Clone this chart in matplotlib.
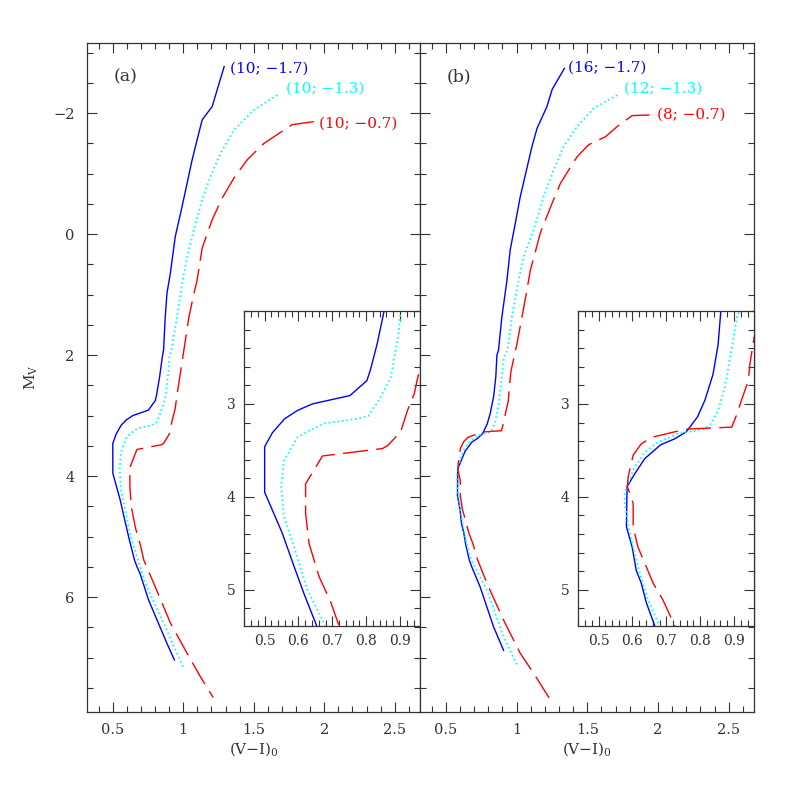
import matplotlib
matplotlib.use("Agg")
import matplotlib.pyplot as plt
from matplotlib.ticker import MultipleLocator

plt.rcParams['font.family'] = ['DejaVu Serif']
plt.rcParams['mathtext.fontset'] = 'dejavuserif'
plt.rcParams['lines.scale_dashes'] = False

# ---------------- data (V-I, M_V) ----------------
# panel (a)
blue_a_x = [1.29, 1.255, 1.205, 1.134, 1.098, 1.06, 1.027, 0.986, 0.943, 0.908, 0.884, 0.872, 0.860, 0.853,
            0.832, 0.812, 0.802, 0.752, 0.641, 0.597, 0.559, 0.523, 0.50, 0.50, 0.552, 0.587,
            0.616, 0.654, 0.672, 0.693, 0.754, 0.885, 0.937]
blue_a_y = [-2.77, -2.50, -2.11, -1.89, -1.56, -1.20, -0.84, -0.40, 0.04, 0.65, 0.98, 1.37, 1.92, 2.0,
            2.36, 2.64, 2.75, 2.91, 3.0, 3.07, 3.16, 3.31, 3.46, 3.95, 4.39, 4.75,
            5.04, 5.39, 5.5, 5.61, 6.05, 6.77, 7.04]

cyan_a_x = [1.667, 1.50, 1.359, 1.265, 1.193, 1.134, 1.075, 1.028, 0.992, 0.956, 0.915,
            0.902, 0.894, 0.873, 0.838, 0.806, 0.774, 0.676, 0.631, 0.597, 0.557, 0.549,
            0.557, 0.587, 0.626, 0.68, 0.73, 0.872, 1.003]
cyan_a_y = [-2.30, -2.05, -1.72, -1.34, -0.95, -0.57, -0.07, 0.37, 0.81, 1.37, 1.92,
            2.02, 2.29, 2.71, 2.96, 3.13, 3.16, 3.21, 3.29, 3.36, 3.61, 3.89,
            4.21, 4.54, 5.0, 5.39, 5.77, 6.49, 7.18]

red_a_x = [1.926, 1.772, 1.572, 1.454, 1.36, 1.277, 1.205, 1.134, 1.098, 1.07, 1.04, 1.004,
           0.968, 0.96, 0.942, 0.922, 0.902, 0.863, 0.848, 0.671, 0.646, 0.621, 0.621, 0.631,
           0.661, 0.695, 0.72, 0.79, 0.909, 1.027, 1.122, 1.212]
red_a_y = [-1.86, -1.81, -1.50, -1.23, -0.93, -0.60, -0.24, 0.23, 0.76, 1.04, 1.37, 1.92,
           2.47, 2.59, 2.89, 3.07, 3.30, 3.45, 3.48, 3.56, 3.71, 3.86, 4.18, 4.5,
           4.86, 5.13, 5.39, 5.77, 6.43, 6.93, 7.32, 7.66]

# panel (b)
blue_b_x = [1.338, 1.251, 1.215, 1.145, 1.109, 1.026, 0.991, 0.955, 0.932, 0.896, 0.872,
            0.861, 0.853, 0.838, 0.814, 0.792, 0.759, 0.725, 0.683, 0.636, 0.607, 0.584,
            0.582, 0.599, 0.611, 0.626, 0.641, 0.666, 0.683, 0.742, 0.837, 0.908]
blue_b_y = [-2.74, -2.39, -2.11, -1.75, -1.45, -0.62, -0.18, 0.26, 0.76, 1.37, 1.92,
            2.0, 2.36, 2.68, 2.96, 3.14, 3.30, 3.375, 3.44, 3.59, 3.75, 3.89,
            4.32, 4.54, 4.79, 4.93, 5.14, 5.39, 5.5, 5.83, 6.49, 6.88]

cyan_b_x = [1.712, 1.546, 1.428, 1.333, 1.262, 1.191, 1.121, 1.05, 1.014, 0.967, 0.936,
            0.91, 0.892, 0.873, 0.853, 0.833, 0.814, 0.735, 0.676, 0.636, 0.602, 0.577,
            0.577, 0.592, 0.616, 0.646, 0.68, 0.79, 0.908, 1.003]
cyan_b_y = [-2.30, -2.08, -1.78, -1.45, -1.06, -0.62, -0.07, 0.37, 0.76, 1.37, 1.92,
            2.04, 2.43, 2.82, 3.07, 3.21, 3.27, 3.32, 3.41, 3.52, 3.71, 3.96,
            4.07, 4.39, 4.75, 5.11, 5.39, 5.88, 6.66, 7.12]

red_b_x = [1.94, 1.818, 1.712, 1.629, 1.511, 1.428, 1.369, 1.31, 1.251, 1.168, 1.133, 1.097,
           1.069, 1.038, 1.003, 0.96, 0.947, 0.942, 0.922, 0.907, 0.893, 0.764, 0.725,
           0.656, 0.626, 0.602, 0.587, 0.585, 0.602, 0.602, 0.616, 0.636, 0.661, 0.69,
           0.725, 0.801, 0.908, 1.026, 1.121, 1.239]
red_b_y = [-1.97, -1.96, -1.78, -1.61, -1.48, -1.28, -1.06, -0.84, -0.51, -0.02, 0.29, 0.6,
           0.98, 1.37, 1.81, 2.27, 2.57, 2.75, 2.96, 3.125, 3.25, 3.27, 3.30,
           3.36, 3.43, 3.55, 3.79, 3.89, 4.07, 4.32, 4.54, 4.71, 4.93, 5.11,
           5.39, 5.83, 6.38, 6.93, 7.26, 7.70]

labels_a = ["(10; \u22121.7)", "(10; \u22121.3)", "(10; \u22120.7)"]
labels_b = ["(16; \u22121.7)", "(12; \u22121.3)", "(8; \u22120.7)"]
label_pos_a = [(1.329, -2.74), (1.728, -2.41), (1.965, -1.83)]
label_pos_b = [(1.364, -2.76), (1.759, -2.41), (1.991, -1.97)]
panel_names = ["(a)", "(b)"]

colors = ['#0000ff', '#00ffff', '#ff0000']
styles = [dict(linestyle='-', lw=1.0),
          dict(linestyle=(0, (1.2, 2.0)), lw=1.3),
          dict(linestyle=(0, (18, 6)), lw=1.0)]

GRAY = '#333333'
W = H = 797.0

fig = plt.figure(figsize=(7.97, 7.97), dpi=100)


def frac(x0, y0, x1, y1):
    return [x0 / W, 1 - y1 / H, (x1 - x0) / W, (y1 - y0) / H]


def style_axes(ax, maj_len, min_len, fs):
    for s in ax.spines.values():
        s.set_color(GRAY)
        s.set_linewidth(0.9)
    ax.tick_params(which='both', direction='in', top=True, right=True,
                   colors=GRAY, labelcolor=GRAY, width=0.8)
    ax.tick_params(which='major', length=maj_len, labelsize=fs)
    ax.tick_params(which='minor', length=min_len)


curves = [
    ((blue_a_x, blue_a_y), (cyan_a_x, cyan_a_y), (red_a_x, red_a_y)),
    ((blue_b_x, blue_b_y), (cyan_b_x, cyan_b_y), (red_b_x, red_b_y)),
]
labels = [labels_a, labels_b]
label_pos = [label_pos_a, label_pos_b]

main_boxes = [(87, 43, 420, 712), (420, 43, 754, 712)]
inset_boxes = [(244, 311, 420, 626), (578, 311, 754, 626)]

for i in range(2):
    ax = fig.add_axes(frac(*main_boxes[i]))
    for (cx, cy), c, st in zip(curves[i], colors, styles):
        ax.plot(cx, cy, color=c, **st)
    for t, (lx, ly), c in zip(labels[i], label_pos[i], colors):
        ax.text(lx, ly, t, color=c, fontsize=11, ha='left', va='center')
    ax.text(0.08, 0.95, panel_names[i], transform=ax.transAxes, fontsize=12.5,
            color=GRAY, ha='left', va='center')
    ax.set_xlim(0.317, 2.679)
    ax.set_ylim(7.90, -3.16)
    ax.xaxis.set_major_locator(MultipleLocator(0.5))
    ax.xaxis.set_minor_locator(MultipleLocator(0.1))
    ax.yaxis.set_major_locator(MultipleLocator(2))
    ax.yaxis.set_minor_locator(MultipleLocator(0.5))
    ax.set_xticks([0.5, 1, 1.5, 2, 2.5])
    ax.set_xticklabels(['0.5', '1', '1.5', '2', '2.5'])
    style_axes(ax, 7.5, 4, 10.5)
    ax.tick_params(axis='x', pad=8)
    ax.tick_params(axis='y', pad=9)
    ax.set_xlabel('(V\u2212I)$_0$', fontsize=11, color=GRAY, labelpad=2)
    if i == 0:
        ax.set_yticks([-2, 0, 2, 4, 6])
        ax.set_yticklabels(['\u22122', '0', '2', '4', '6'])
        ax.set_ylabel('M$_{\\rm V}$', fontsize=11, color=GRAY, labelpad=9)
    else:
        ax.tick_params(axis='y', labelleft=False)

    axi = fig.add_axes(frac(*inset_boxes[i]))
    axi.set_facecolor('white')
    for (cx, cy), c, st in zip(curves[i], colors, styles):
        axi.plot(cx, cy, color=c, **st)
    axi.set_xlim(0.439, 0.959)
    axi.set_ylim(5.39, 2.0)
    axi.set_xticks([0.5, 0.6, 0.7, 0.8, 0.9])
    axi.xaxis.set_minor_locator(MultipleLocator(0.02))
    axi.set_yticks([3, 4, 5])
    axi.yaxis.set_minor_locator(MultipleLocator(0.2))
    style_axes(axi, 7, 4, 10)
    axi.tick_params(axis='x', pad=6)
    axi.tick_params(axis='y', pad=6)

fig.savefig('out.png', dpi=100)
